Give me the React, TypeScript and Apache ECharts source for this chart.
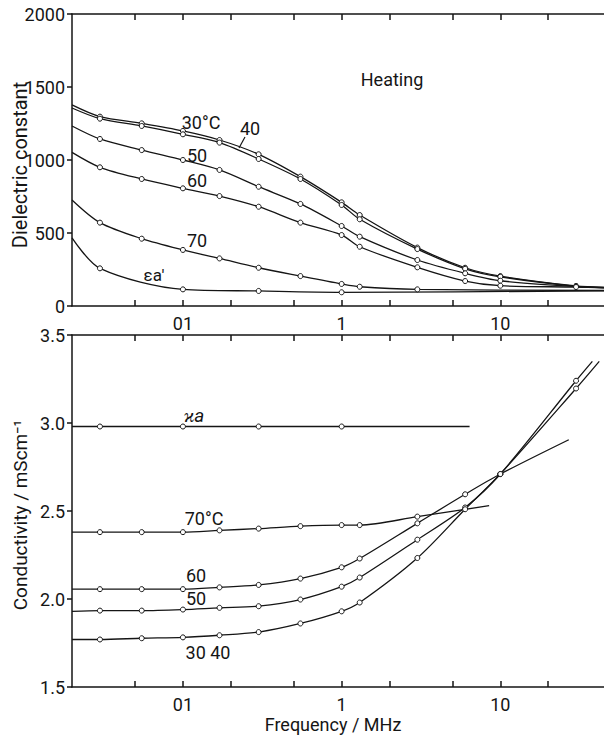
import React, { useEffect, useRef } from "react";
import * as echarts from "echarts";

// ---- axis ticks / labels ----
const xTickFreqs = [0.05, 0.1, 0.2, 0.5, 1, 2, 5, 10, 20];
const xLabelFreqs = [0.1, 1, 10];
const xLabelTexts = ["01", "1", "10"];
const freqMin = 0.02;
const freqMax = 45;
const epsRange = [0, 2000];
const condRange = [1.5, 3.5];

// ---- top panel: dielectric constant (heating) ----
const epsFreq = [0.02, 0.03, 0.055, 0.1, 0.17, 0.3, 0.55, 1, 1.3, 3, 6, 10, 30, 45];
const eps30 = [1377, 1297, 1251, 1199, 1137, 1039, 886, 710, 623, 400, 262, 205, 137, 128];
const eps40 = [1356, 1283, 1233, 1176, 1119, 1007, 870, 692, 594, 390, 255, 200, 135, 127];
const eps50 = [1233, 1144, 1068, 1000, 932, 817, 699, 548, 475, 315, 224, 173, 133, 125];
const eps60 = [1052, 950, 870, 806, 753, 680, 571, 486, 406, 265, 171, 139, 130, 124];
const eps70 = [726, 571, 461, 384, 326, 262, 205, 151, 132, 114, null, null, null, 106];
const epsA = [466, 258, null, 114, null, 103, null, 94, null, null, null, null, null, 104];

// ---- bottom panel: conductivity ----
const kaFreq = [0.02, 0.03, 0.1, 0.3, 1, 6.4];
const kaVal = [2.98, 2.98, 2.98, 2.98, 2.98, 2.98];
const c70Freq = [0.02, 0.03, 0.055, 0.1, 0.17, 0.3, 0.55, 1, 1.3, 3, 8.5];
const c70Val = [2.38, 2.38, 2.38, 2.38, 2.39, 2.4, 2.414, 2.42, 2.42, 2.468, 2.53];
const c60Freq = [0.02, 0.03, 0.055, 0.1, 0.17, 0.3, 0.55, 1, 1.3, 3, 6, 10, 27];
const c60Val = [2.056, 2.056, 2.056, 2.056, 2.066, 2.08, 2.116, 2.18, 2.23, 2.43, 2.595, 2.71, 2.905];
const c50Freq = [0.02, 0.03, 0.055, 0.1, 0.17, 0.3, 0.55, 1, 1.3, 3, 6, 10, 30, 38];
const c50Val = [1.93, 1.934, 1.934, 1.94, 1.95, 1.959, 1.997, 2.07, 2.122, 2.337, 2.52, 2.71, 3.24, 3.35];
const c3040Freq = [0.02, 0.03, 0.055, 0.1, 0.17, 0.3, 0.55, 1, 1.3, 3, 6, 10, 30, 42];
const c3040Val = [1.77, 1.77, 1.777, 1.782, 1.794, 1.812, 1.861, 1.93, 1.98, 2.233, 2.51, 2.71, 3.196, 3.35];

const INK = "#151515";
const FONT = "Roboto";

function mkData(freq: number[], vals: (number | null)[]) {
  const out: any[] = [];
  freq.forEach((f, i) => {
    const v = vals[i];
    if (v == null) return;
    const edge = i === 0 || i === freq.length - 1;
    out.push(edge ? { value: [f, v], symbol: "none" } : [f, v]);
  });
  return out;
}

function lineSeries(name: string, grid: number, freq: number[], vals: (number | null)[]) {
  return {
    name,
    type: "line",
    xAxisIndex: grid === 0 ? 0 : 2,
    yAxisIndex: grid,
    data: mkData(freq, vals),
    smooth: 0.3,
    connectNulls: true,
    symbol: "circle",
    symbolSize: 5,
    showSymbol: true,
    itemStyle: { color: "#fff", borderColor: INK, borderWidth: 1 },
    lineStyle: { color: INK, width: 1.3 },
    emphasis: { disabled: true },
    z: 3,
  };
}

function xAxisDef(grid: number, position: "top" | "bottom") {
  const bottom = position === "bottom";
  return {
    gridIndex: grid,
    type: "log",
    logBase: 10,
    min: freqMin,
    max: freqMax,
    position,
    axisLine: { show: true, lineStyle: { color: INK, width: 1.5 } },
    axisTick: {
      show: true,
      inside: true,
      length: 6,
      customValues: xTickFreqs,
      lineStyle: { color: INK, width: 1.5 },
    },
    minorTick: { show: false },
    splitLine: { show: false },
    axisLabel: {
      show: bottom,
      customValues: xLabelFreqs,
      margin: 8,
      color: INK,
      fontFamily: FONT,
      fontSize: 18,
      formatter: (v: number) => {
        const i = xLabelFreqs.findIndex((f) => Math.abs(f - v) / f < 1e-6);
        return i >= 0 ? xLabelTexts[i] : "";
      },
    },
  };
}

function yAxisDef(grid: number, range: number[], interval: number, fmt: (v: number) => string) {
  return {
    gridIndex: grid,
    type: "value",
    min: range[0],
    max: range[1],
    interval,
    axisLine: { show: true, lineStyle: { color: INK, width: 1.5 } },
    axisTick: { show: true, inside: false, length: 5, lineStyle: { color: INK, width: 1.5 } },
    splitLine: { show: false },
    axisLabel: { margin: 7, color: INK, fontFamily: FONT, fontSize: 18, formatter: fmt },
  };
}

function txt(x: number, y: number, text: string, extra: any = {}) {
  return {
    type: "text",
    x,
    y,
    silent: true,
    style: {
      text,
      fill: INK,
      font: `18px ${FONT}`,
      align: "center",
      verticalAlign: "middle",
      ...extra,
    },
  };
}

export default function App() {
  const ref = useRef<HTMLDivElement>(null);
  useEffect(() => {
    document.body.style.margin = "0";
    const chart = echarts.init(ref.current!, null, { renderer: "svg" });
    chart.setOption({
      animation: false,
      backgroundColor: "#fff",
      grid: [
        { left: 72, top: 14, right: 0, height: 292 },
        { left: 72, top: 335, right: 0, height: 352 },
      ],
      xAxis: [xAxisDef(0, "bottom"), xAxisDef(0, "top"), xAxisDef(1, "bottom"), xAxisDef(1, "top")],
      yAxis: [
        yAxisDef(0, epsRange, 500, (v) => String(v)),
        yAxisDef(1, condRange, 0.5, (v) => v.toFixed(1)),
      ],
      series: [
        lineSeries("30°C", 0, epsFreq, eps30),
        lineSeries("40", 0, epsFreq, eps40),
        lineSeries("50", 0, epsFreq, eps50),
        lineSeries("60", 0, epsFreq, eps60),
        lineSeries("70", 0, epsFreq, eps70),
        lineSeries("εa'", 0, epsFreq, epsA),
        lineSeries("ϰa", 1, kaFreq, kaVal),
        lineSeries("70°C", 1, c70Freq, c70Val),
        lineSeries("60", 1, c60Freq, c60Val),
        lineSeries("50", 1, c50Freq, c50Val),
        lineSeries("30 40", 1, c3040Freq, c3040Val),
      ],
      graphic: [
        { ...txt(20, 165, "Dielectric constant", { font: `20px ${FONT}` }), rotation: Math.PI / 2 },
        { ...txt(20, 515, "Conductivity / mScm⁻¹", { font: `19px ${FONT}` }), rotation: Math.PI / 2 },
        txt(333, 724, "Frequency / MHz"),
        txt(392, 79, "Heating"),
        txt(201, 122, "30°C"),
        txt(250, 128, "40"),
        {
          type: "line",
          silent: true,
          shape: { x1: 245, y1: 137, x2: 239, y2: 148 },
          style: { stroke: INK, lineWidth: 1.2 },
        },
        txt(197, 155, "50"),
        txt(197, 180, "60"),
        txt(197, 240, "70"),
        txt(154, 275, "εa'", { font: `17px ${FONT}` }),
        txt(194, 415, "ϰa", { font: `italic 19px ${FONT}` }),
        txt(204, 518, "70°C"),
        txt(196, 575, "60"),
        txt(196, 598, "50"),
        txt(208, 652, "30 40"),
      ],
    });
    return () => chart.dispose();
  }, []);
  return <div ref={ref} style={{ width: 604, height: 735 }} />;
}
